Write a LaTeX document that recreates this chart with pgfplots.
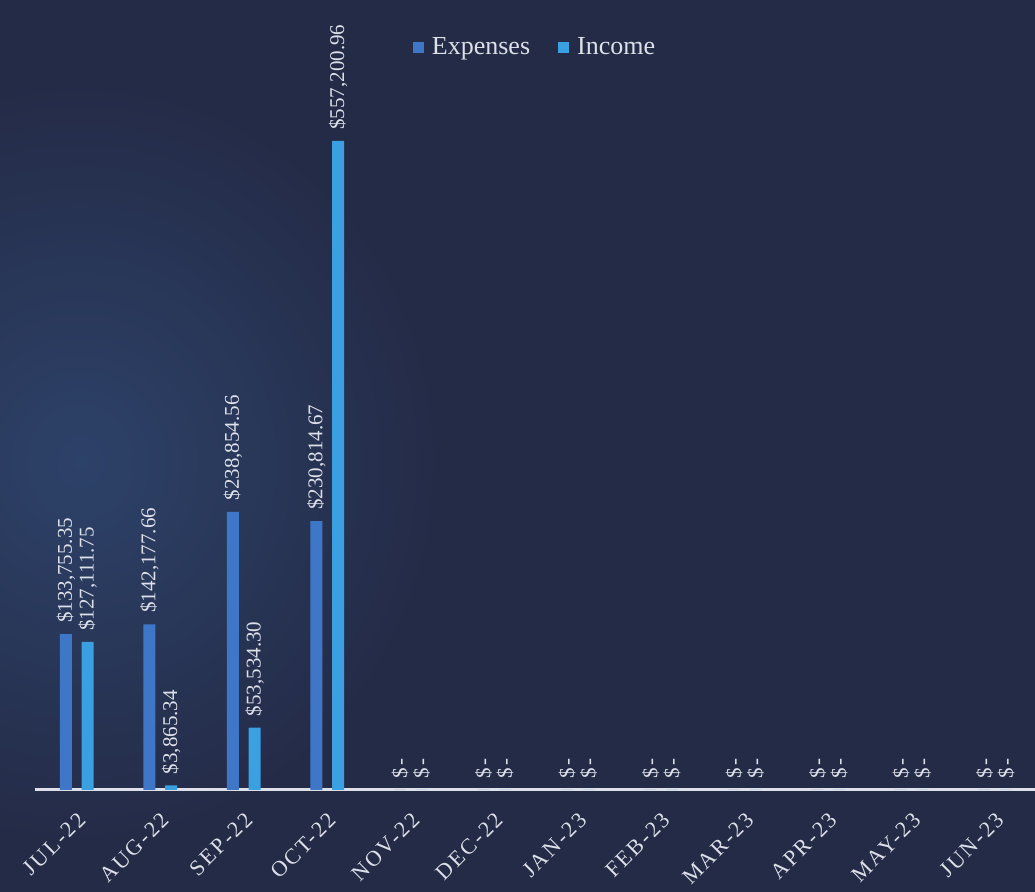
\documentclass[border=0pt]{standalone}
\usepackage{fontspec}
\setmainfont{Liberation Serif}
\usepackage{pgfplots}
\usepackage{pgfplotstable}
\pgfplotsset{compat=1.18}
\definecolor{bgA}{HTML}{242B47}
\definecolor{bgB}{HTML}{2D4269}
\definecolor{expc}{HTML}{3F77C8}
\definecolor{incc}{HTML}{3AA0E2}
\definecolor{txt}{HTML}{DDE0E8}
\newcommand{\zerolab}{\$\kern1.5pt-}

\pgfplotstableread{
x y label
0 133755.35 \$133,755.35
1 142177.66 \$142,177.66
2 238854.56 \$238,854.56
3 230814.67 \$230,814.67
4 0 \zerolab
5 0 \zerolab
6 0 \zerolab
7 0 \zerolab
8 0 \zerolab
9 0 \zerolab
10 0 \zerolab
11 0 \zerolab
}\expenses

\pgfplotstableread{
x y label
0 127111.75 \$127,111.75
1 3865.34 \$3,865.34
2 53534.30 \$53,534.30
3 557200.96 \$557,200.96
4 0 \zerolab
5 0 \zerolab
6 0 \zerolab
7 0 \zerolab
8 0 \zerolab
9 0 \zerolab
10 0 \zerolab
11 0 \zerolab
}\income

\begin{document}
\begin{tikzpicture}
\path[use as bounding box] (0,0) rectangle (517.5pt,446pt);
\fill[bgA] (0,0) rectangle (517.5pt,446pt);
\begin{scope}
\clip (0,0) rectangle (517.5pt,446pt);
\shade[inner color=bgB, outer color=bgA] (40pt,215pt) ellipse (180pt and 190pt);
\end{scope}
\begin{axis}[
  at={(17.5pt,51pt)}, anchor=south west,
  scale only axis, width=501pt, height=395pt,
  xmin=-0.5, xmax=11.5, ymin=0, ymax=678200,
  ybar=4.8pt, bar width=6pt,
  axis x line=bottom, axis y line=none,
  x axis line style={-, draw=txt, line width=1.5pt},
  xtick={0,...,11},
  xticklabels={JUL-22,AUG-22,SEP-22,OCT-22,NOV-22,DEC-22,JAN-23,FEB-23,MAR-23,APR-23,MAY-23,JUN-23},
  major tick length=0pt,
  xticklabel shift=9pt,
  xticklabel style={rotate=45, anchor=north east, font=\fontsize{11}{12}\selectfont\addfontfeatures{LetterSpace=10}, text=txt, inner sep=1pt},
  nodes near coords,
  point meta=explicit symbolic,
  every node near coord/.append style={rotate=90, anchor=west, text=txt, font=\fontsize{10.5}{12}\selectfont, inner xsep=5.5pt},
  legend style={at={(0.5,0.94)}, anchor=center, legend columns=2, draw=none, fill=none,
    text=txt, font=\fontsize{13}{14}\selectfont,
    /tikz/every odd column/.append style={column sep=2pt},
    /tikz/every even column/.append style={column sep=12pt}},
  legend image code/.code={\fill[#1] (0pt,-2.75pt) rectangle (5.5pt,2.75pt);},
  clip=false,
]
\addplot[fill=expc, draw=none] table[x=x, y=y, meta=label] {\expenses};
\addplot[fill=incc, draw=none] table[x=x, y=y, meta=label] {\income};
\legend{Expenses, Income}
\end{axis}
\end{tikzpicture}
\end{document}
